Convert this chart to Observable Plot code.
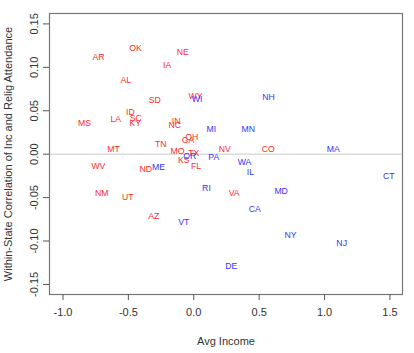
<!DOCTYPE html>
<html>
<head>
<meta charset="utf-8">
<script src="https://cdn.jsdelivr.net/npm/d3@7"></script>
<script src="https://cdn.jsdelivr.net/npm/@observablehq/plot@0.6"></script>
<style>
  html, body { margin: 0; padding: 0; background: #fff; }
  #chart { width: 414px; height: 353px; }
</style>
</head>
<body>
<div id="chart"></div>
<script>
const states = ["OK","AR","NE","IA","AL","SD","WY","WI","ID","SC","KY","LA","MS","IN","NC","MI","MN","NH","TN","OH","GA","MO","TX","OR","KS","FL","MT","WV","ND","ME","PA","NV","CO","MA","WA","IL","CT","NM","UT","AZ","VT","RI","VA","MD","CA","NY","NJ","DE"];
const avgIncome = [-0.446,-0.729,-0.084,-0.203,-0.520,-0.298,0.013,0.026,-0.484,-0.443,-0.448,-0.596,-0.836,-0.135,-0.145,0.135,0.416,0.571,-0.252,-0.015,-0.043,-0.125,0.000,-0.030,-0.076,0.018,-0.614,-0.729,-0.367,-0.270,0.153,0.237,0.569,1.066,0.388,0.433,1.491,-0.703,-0.505,-0.306,-0.076,0.097,0.309,0.668,0.466,0.739,1.131,0.286];
const correlation = [0.1226,0.1118,0.1175,0.1030,0.0849,0.0619,0.0665,0.0638,0.0480,0.0411,0.0362,0.0400,0.0362,0.0380,0.0330,0.0285,0.0285,0.0657,0.0115,0.0200,0.0158,0.0035,0.0016,-0.0018,-0.0069,-0.0138,0.0054,-0.0134,-0.0173,-0.0150,-0.0038,0.0054,0.0054,0.0054,-0.0092,-0.0207,-0.0253,-0.0445,-0.0495,-0.0714,-0.0787,-0.0387,-0.0445,-0.0426,-0.0629,-0.0929,-0.1020,-0.1294];
const party = ["R","R","R","R","R","R","R","D","R","R","R","R","R","R","R","D","D","D","R","R","R","R","R","D","R","R","R","R","R","D","D","R","R","D","D","D","D","R","R","R","D","D","R","D","D","D","D","D"];
const xTicks = [-1.0, -0.5, 0.0, 0.5, 1.0, 1.5];
const yTicks = [-0.15, -0.10, -0.05, 0.00, 0.05, 0.10, 0.15];

const data = states.map((s, i) => ({state: s, x: avgIncome[i], y: correlation[i], party: party[i]}));
const fmt1 = d => (d < 0 ? "-" : "") + Math.abs(d).toFixed(1);
const fmt2 = d => (d < 0 ? "-" : "") + Math.abs(d).toFixed(2);

const chart = Plot.plot({
  width: 414,
  height: 353,
  marginLeft: 49,
  marginRight: 12,
  marginTop: 13,
  marginBottom: 59,
  style: {fontFamily: "'Liberation Sans', Arial, sans-serif", background: "#fff"},
  x: {domain: [-1.103, 1.596]},
  y: {domain: [-0.1616, 0.162]},
  color: {domain: ["R","D"], range: ["#ff2a2a","#3333ff"]},
  marks: [
    Plot.ruleY([0], {stroke: "#cccccc", strokeWidth: 1}),
    Plot.frame({stroke: "#777", strokeWidth: 1.2}),
    Plot.axisX({ticks: xTicks, tickFormat: fmt1, tickSize: 6, tickPadding: 8, fontSize: 11, stroke: "#555", fill: "#333",
      label: "Avg Income", labelAnchor: "center", labelArrow: false, labelOffset: 50}),
    Plot.axisY({ticks: yTicks, tickFormat: fmt2, tickSize: 6, tickPadding: 6, fontSize: 11, stroke: "#555", fill: "#333",
      tickRotate: -90, textAnchor: "middle",
      label: "Within-State Correlation of Inc and Relig Attendance", labelAnchor: "center", labelArrow: false, labelOffset: 45}),
    Plot.text(data, {x: "x", y: "y", text: "state", fill: "party", fontSize: 8.7})
  ]
});
document.getElementById("chart").appendChild(chart);
</script>
</body>
</html>
